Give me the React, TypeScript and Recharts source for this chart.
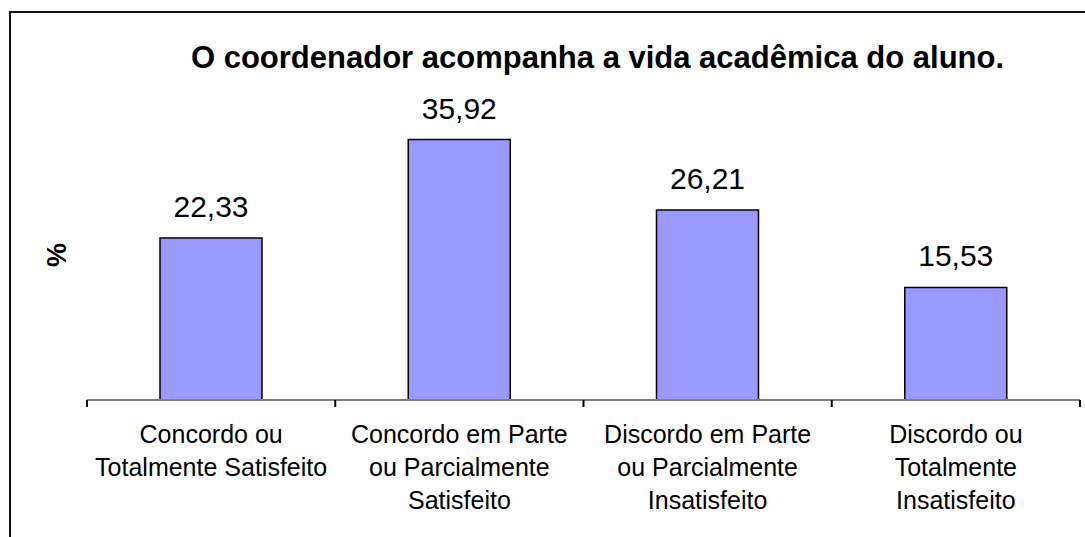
import React from 'react';
import { BarChart, Bar, XAxis, YAxis, LabelList } from 'recharts';

const categories = [
  'Concordo ou Totalmente Satisfeito',
  'Concordo em Parte ou Parcialmente Satisfeito',
  'Discordo em Parte ou Parcialmente Insatisfeito',
  'Discordo ou Totalmente Insatisfeito',
];

const labelLines = [
  ['Concordo ou', 'Totalmente Satisfeito'],
  ['Concordo em Parte', 'ou Parcialmente', 'Satisfeito'],
  ['Discordo em Parte', 'ou Parcialmente', 'Insatisfeito'],
  ['Discordo ou', 'Totalmente', 'Insatisfeito'],
];

const values = [22.33, 35.92, 26.21, 15.53];

const data = categories.map((name, i) => ({ name, value: values[i] }));

const FONT = '"Liberation Sans", Arial, sans-serif';

// labels plus tick marks on the category boundaries (half a band each side)
const CategoryTick = ({ x, y, index, payload, visibleTicksCount }: any) => {
  const lines = labelLines[index] || [];
  const half = payload && payload.offset ? payload.offset : 0;
  const isLast = index === (visibleTicksCount ?? categories.length) - 1;
  return (
    <g>
      <line x1={x - half} x2={x - half} y1={y} y2={y + 7} stroke="#000" strokeWidth={2} />
      {isLast && <line x1={x + half} x2={x + half} y1={y} y2={y + 7} stroke="#000" strokeWidth={2} />}
      <text x={x} y={y} textAnchor="middle" fontFamily={FONT} fontSize={25} fill="#000">
        {lines.map((line, i) => (
          <tspan key={i} x={x} y={y + 43 + i * 33}>
            {line}
          </tspan>
        ))}
      </text>
    </g>
  );
};

const App: React.FC = () => {
  return (
    <div style={{ position: 'absolute', left: 0, top: 0, width: 1085, height: 537, background: '#fff', overflow: 'hidden' }}>
      <div
        style={{
          position: 'absolute',
          left: 9,
          top: 11,
          width: 1100,
          height: 600,
          borderLeft: '2px solid #111',
          borderTop: '2px solid #111',
        }}
      />
      <div
        style={{
          position: 'absolute',
          left: 0,
          top: 40,
          width: 1195,
          textAlign: 'center',
          fontFamily: FONT,
          fontWeight: 'bold',
          fontSize: 31,
          color: '#000',
          whiteSpace: 'nowrap',
        }}
      >
        O coordenador acompanha a vida acadêmica do aluno.
      </div>
      <div
        style={{
          position: 'absolute',
          left: 57,
          top: 255,
          transform: 'translate(-50%, -50%) rotate(-90deg)',
          fontFamily: FONT,
          fontWeight: 'bold',
          fontSize: 27,
          color: '#000',
        }}
      >
        %
      </div>
      <div style={{ position: 'absolute', left: 0, top: 0 }}>
        <BarChart width={1085} height={537} data={data} margin={{ top: 110, right: 5, left: 87, bottom: 0 }}>
          <XAxis
            dataKey="name"
            type="category"
            axisLine={{ stroke: '#808080', strokeWidth: 2 }}
            tickLine={false}
            tickSize={0}
            tickMargin={0}
            height={137}
            interval={0}
            tick={<CategoryTick />}
          />
          <YAxis hide domain={[0, 40]} />
          <Bar
            dataKey="value"
            fill="#9999FF"
            stroke="#000"
            strokeWidth={1.5}
            barSize={102}
            isAnimationActive={false}
          >
            <LabelList
              dataKey="value"
              position="top"
              offset={21}
              formatter={(v: any) => Number(v).toFixed(2).replace('.', ',')}
              style={{ fontFamily: FONT, fontSize: 30, fill: '#000' }}
            />
          </Bar>
        </BarChart>
      </div>
    </div>
  );
};

export default App;
